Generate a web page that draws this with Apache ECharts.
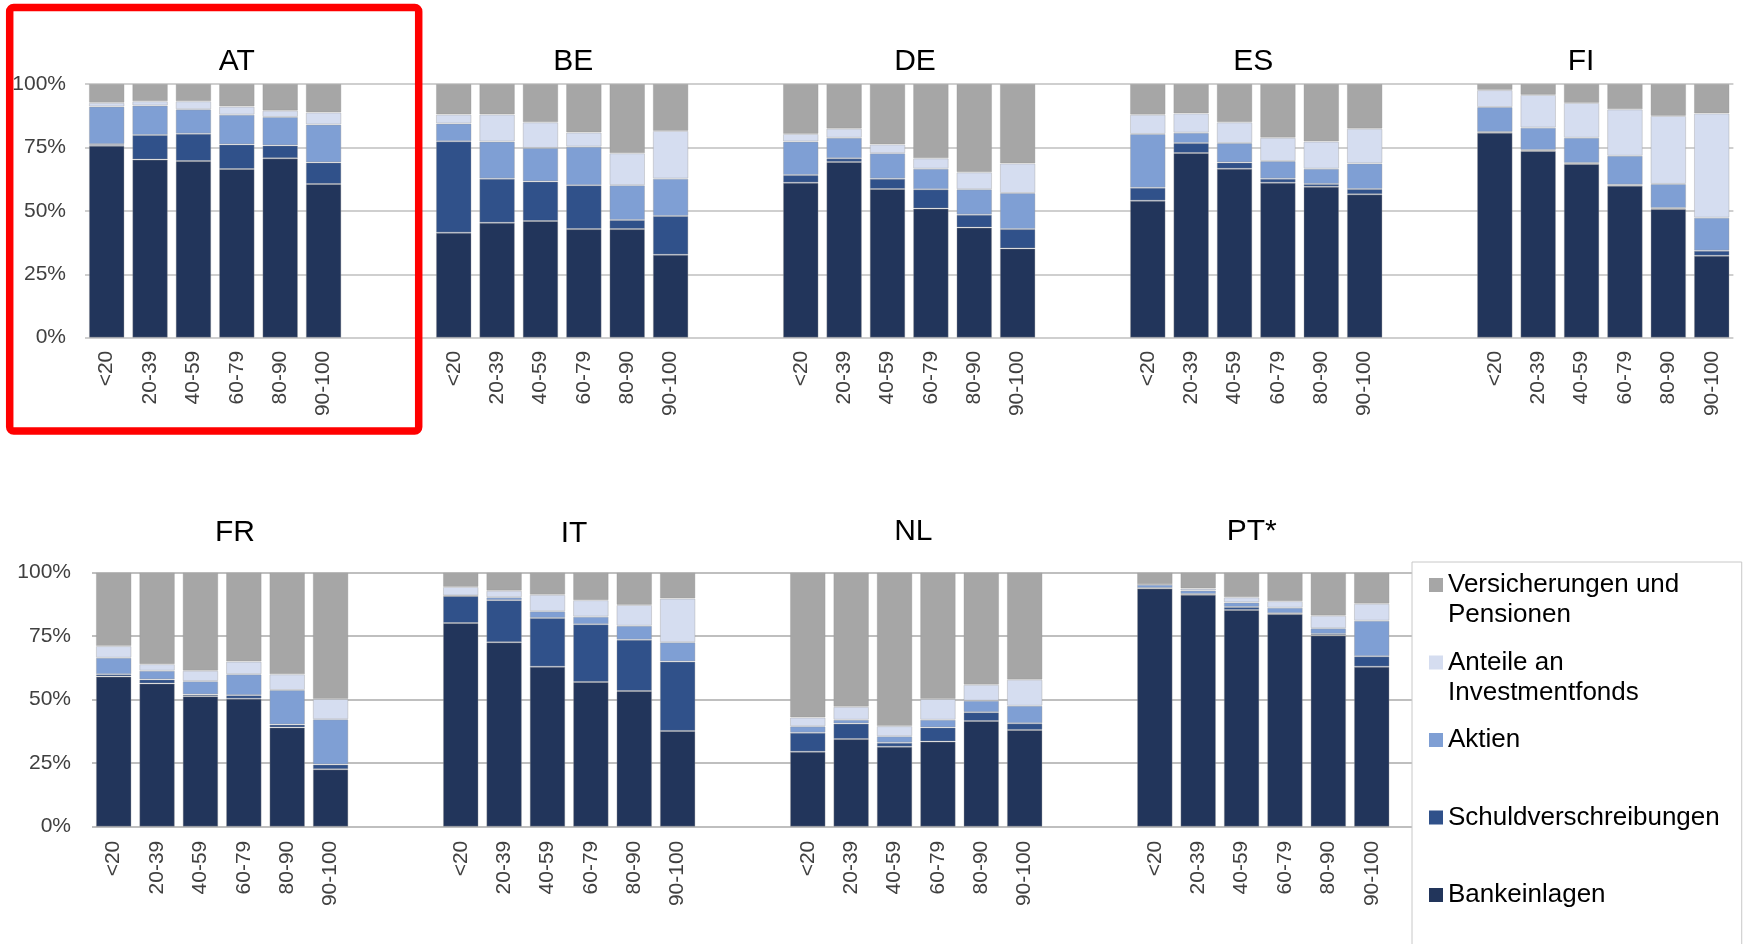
<!DOCTYPE html>
<html>
<head>
<meta charset="utf-8">
<script src="https://cdn.jsdelivr.net/npm/echarts@6/dist/echarts.min.js"></script>
<style>
html,body{margin:0;padding:0;background:#fff;}
#chart{width:1743px;height:944px;}
</style>
</head>
<body>
<div id="chart"></div>
<script>
// ---- data ----
const ageGroups = ['<20', '20-39', '40-59', '60-79', '80-90', '90-100'];
const topCountries = ['AT', 'BE', 'DE', 'ES', 'FI'];
const bottomCountries = ['FR', 'IT', 'NL', 'PT*'];
const yTicks = [0, 25, 50, 75, 100];

// values in % per country (AT, BE, DE, ES, FI, FR, IT, NL, PT*), 6 age groups each
const bankeinlagen = [
  75.7, 70.2, 69.6, 66.5, 70.7, 60.6,   // AT
  41.4, 45.3, 46.0, 42.8, 42.8, 32.7,   // BE
  61.1, 69.3, 58.6, 50.9, 43.4, 35.2,   // DE
  54.0, 72.8, 66.6, 61.1, 59.5, 56.5,   // ES
  80.8, 73.6, 68.5, 59.9, 50.7, 32.3,   // FI
  59.1, 56.4, 51.4, 50.4, 39.1, 22.6,   // FR
  80.2, 72.6, 63.0, 57.0, 53.4, 37.7,   // IT
  29.5, 34.5, 31.5, 33.5, 41.6, 38.1,   // NL
  93.8, 91.3, 85.3, 83.7, 75.3, 63.0    // PT*
];
const schuldverschreibungen = [
  0.6, 9.7, 10.8, 9.7, 5.1, 8.5,
  36.0, 17.4, 15.6, 17.3, 3.6, 15.3,
  3.0, 1.4, 4.1, 7.6, 5.1, 7.6,
  5.1, 3.9, 2.5, 1.6, 1.1, 2.1,
  0.3, 0.4, 0.4, 0.4, 0.4, 2.0,
  0.9, 1.6, 0.6, 1.4, 1.1, 1.9,
  10.6, 16.6, 19.2, 22.7, 20.2, 27.3,
  7.5, 6.1, 1.6, 5.6, 3.5, 2.6,
  0.2, 0.3, 1.2, 0.3, 0.6, 4.1
];
const aktien = [
  14.8, 11.6, 9.6, 11.7, 11.2, 14.9,
  7.0, 14.6, 13.2, 15.2, 13.7, 14.7,
  13.2, 8.1, 10.0, 8.1, 10.0, 14.2,
  21.2, 4.1, 7.6, 6.9, 6.0, 10.1,
  9.8, 8.8, 9.9, 11.4, 9.5, 13.0,
  6.5, 3.4, 5.3, 8.2, 13.6, 17.8,
  0.2, 1.1, 2.6, 3.0, 5.5, 7.6,
  2.5, 1.5, 2.5, 3.0, 4.5, 6.9,
  1.3, 1.4, 1.8, 2.2, 2.2, 14.0
];
const investmentfonds = [
  1.5, 1.7, 3.2, 3.2, 2.5, 4.8,
  3.6, 10.7, 10.1, 5.6, 12.6, 18.8,
  3.0, 3.6, 3.5, 4.1, 6.7, 11.7,
  7.6, 7.6, 8.2, 9.2, 10.7, 13.7,
  6.7, 12.9, 13.7, 18.3, 26.8, 41.1,
  4.6, 2.6, 4.1, 5.0, 6.2, 8.0,
  3.4, 2.6, 6.5, 6.5, 8.2, 17.2,
  3.5, 5.1, 4.0, 8.2, 6.3, 10.3,
  0.2, 0.8, 2.0, 2.6, 5.0, 6.7
];
const versicherungen = [
  7.4, 6.8, 6.8, 8.9, 10.5, 11.2,
  12.0, 12.0, 15.1, 19.1, 27.3, 18.5,
  19.7, 17.6, 23.8, 29.3, 34.8, 31.3,
  12.1, 11.6, 15.1, 21.2, 22.7, 17.6,
  2.4, 4.3, 7.5, 10.0, 12.6, 11.6,
  28.9, 36.0, 38.6, 35.0, 40.0, 49.7,
  5.6, 7.1, 8.7, 10.8, 12.7, 10.2,
  57.0, 52.8, 60.4, 49.7, 44.1, 42.1,
  4.5, 6.2, 9.7, 11.2, 16.9, 12.2
];
const seriesNames = ['Bankeinlagen', 'Schuldverschreibungen', 'Aktien', 'Anteile an Investmentfonds', 'Versicherungen und Pensionen'];
const legendLabels = ['Versicherungen und\nPensionen', 'Anteile an\nInvestmentfonds', 'Aktien\n ', 'Schuldverschreibungen\n ', 'Bankeinlagen\n '];
const seriesColors = ['#22355b', '#30518a', '#7f9fd4', '#d5ddf0', '#a6a6a6'];

// ---- build ----
const allCountries = topCountries.concat(bottomCountries);
const seriesValues = [bankeinlagen, schuldverschreibungen, aktien, investmentfonds, versicherungen];

function buildRow(countries, extraBlank) {
  const cats = [];
  const idx = []; // index into value arrays or -1 for blank
  countries.forEach((c, ci) => {
    const base = allCountries.indexOf(c) * ageGroups.length;
    ageGroups.forEach((a, ai) => { cats.push(a); idx.push(base + ai); });
    if (ci < countries.length - 1) { cats.push(''); idx.push(-1); cats.push(''); idx.push(-1); }
  });
  for (let i = 0; i < extraBlank; i++) { cats.push(''); idx.push(-1); }
  return { cats, idx };
}
const topRow = buildRow(topCountries, 0);
const botRow = buildRow(bottomCountries, 1);

const FONT = "'Liberation Sans', Arial, sans-serif";
const labelColor = '#404040';

function xAxisFor(row, gridIndex, margin) {
  return {
    type: 'category', gridIndex, data: row.cats,
    axisLine: { show: false }, axisTick: { show: false },
    axisLabel: { interval: 0, rotate: 90, margin, fontSize: 21, color: labelColor, fontFamily: FONT }
  };
}
function yAxisFor(gridIndex, margin, lineColor) {
  return {
    type: 'value', gridIndex, min: yTicks[0], max: yTicks[yTicks.length - 1], interval: yTicks[1] - yTicks[0],
    axisLine: { show: false }, axisTick: { show: false },
    axisLabel: { formatter: '{value}%', fontSize: 21, color: labelColor, margin, fontFamily: FONT },
    splitLine: { lineStyle: { color: lineColor, width: 2 } }
  };
}

const series = [];
[topRow, botRow].forEach((row, gi) => {
  seriesNames.forEach((name, si) => {
    series.push({
      name, type: 'bar', stack: 'total' + gi, xAxisIndex: gi, yAxisIndex: gi,
      barCategoryGap: '18%',
      itemStyle: { color: seriesColors[si], borderColor: 'rgba(150,150,150,0.35)', borderWidth: 1 },
      data: row.idx.map(k => k < 0 ? '-' : seriesValues[si][k])
    });
  });
});

const titlePos = {
  'AT': [236.7, 62], 'BE': [573.3, 62], 'DE': [915, 62], 'ES': [1253.3, 62], 'FI': [1581, 62],
  'FR': [235, 533], 'IT': [574, 534], 'NL': [913.3, 532], 'PT*': [1251.7, 532]
};
const graphics = allCountries.map(c => ({
  type: 'text', x: titlePos[c][0], y: titlePos[c][1], z: 10,
  style: { text: c, fontSize: 30, fontFamily: FONT, fill: '#000', align: 'center', verticalAlign: 'middle' }
}));
graphics.push({
  type: 'rect', z: 20,
  shape: { x: 9.7, y: 7.5, width: 409, height: 423.5, r: 4 },
  style: { fill: 'none', stroke: '#ff0000', lineWidth: 7.5 }
});

const legendOrder = seriesNames.slice().reverse();
const option = {
  backgroundColor: '#ffffff',
  animation: false,
  grid: [
    { left: 85, top: 84, width: 1648.4, height: 253.7 },
    { left: 92, top: 572.7, width: 1344.8, height: 254 }
  ],
  xAxis: [xAxisFor(topRow, 0, 13), xAxisFor(botRow, 1, 14)],
  yAxis: [yAxisFor(0, 19, '#cfcfcf'), yAxisFor(1, 21, '#bfbfbf')],
  legend: {
    orient: 'vertical', left: 1412, top: 562, height: 420,
    padding: [8, 22, 40, 17], itemGap: 17.5, itemWidth: 14, itemHeight: 60,
    icon: 'path://M0,0h0.01v0.01h-0.01z M0,8h14v14h-14z M0,59.99h0.01v0.01h-0.01z',
    itemStyle: { borderWidth: 0 },
    data: legendOrder,
    formatter: name => legendLabels[legendOrder.indexOf(name)],
    textStyle: { fontSize: 26, lineHeight: 30, color: '#000', fontFamily: FONT },
    borderColor: '#c8c8c8', borderWidth: 1, backgroundColor: '#fff', borderRadius: 0,
    selectedMode: false, z: 8
  },
  graphic: graphics,
  series
};
const chart = echarts.init(document.getElementById('chart'), null, { renderer: 'canvas' });
chart.setOption(option);
</script>
</body>
</html>
